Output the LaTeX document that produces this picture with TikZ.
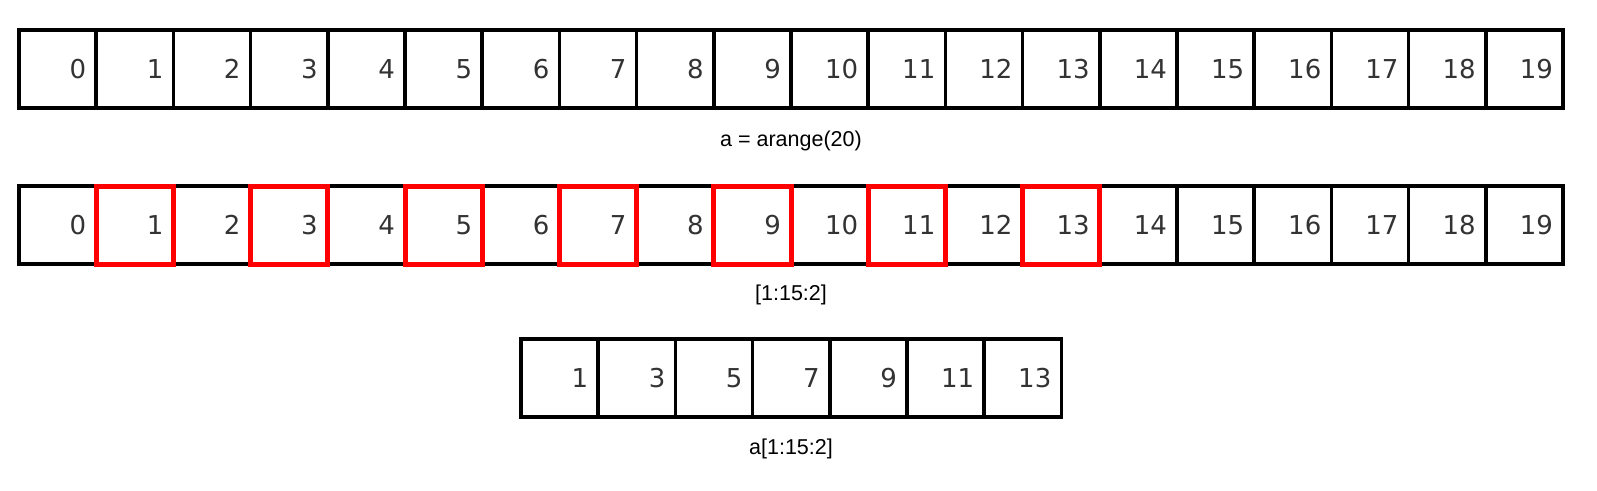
\documentclass[tikz,border=0pt]{standalone}
\usepackage{fontspec}
\setmainfont{Liberation Sans}
\newfontfamily\digitfont{DejaVu Sans}
\begin{document}
\begin{tikzpicture}[x=1pt,y=1pt,
  cell/.style={draw=black, line width=3.6pt, fill=white, outer sep=0pt,
    minimum width=77.2pt, minimum height=78pt, inner xsep=0pt, inner ysep=0pt,
    text width=57pt, align=right,
    font=\digitfont\fontsize{26}{26}\selectfont, text=black!80, anchor=north west},
  redbox/.style={draw=red, line width=5pt},
  caption/.style={font=\fontsize{21.5}{24}\selectfont, anchor=base, inner sep=0pt}]
\useasboundingbox (0,0) rectangle (1597,-490);
% row 1
\foreach \i in {0,...,19} {
  \node[cell] (a\i) at ({19+77.2*\i},-30) {\i};
}
\node[caption] (capa) at (791,-146) {a = arange(20)};
% row 2
\foreach \i in {0,...,19} {
  \node[cell] (b\i) at ({19+77.2*\i},-186) {\i};
}
\foreach \i in {1,3,...,13} {
  \draw[redbox] (b\i.north west) rectangle (b\i.south east);
}
\node[caption] (capb) at (791,-300) {[1:15:2]};
% row 3
\foreach \v [count=\k from 0] in {1,3,...,13} {
  \node[cell] (c\k) at ({521+77.2*\k},-339) {\v};
}
\node[caption] (capc) at (791,-454) {a[1:15:2]};
\end{tikzpicture}
\end{document}
